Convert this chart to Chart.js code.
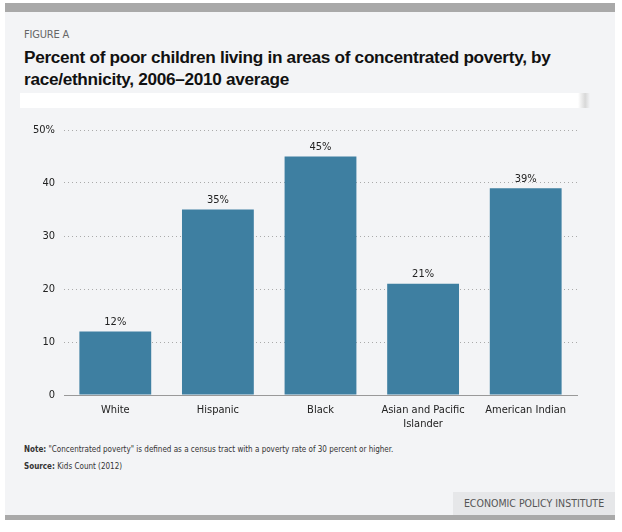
<!DOCTYPE html>
<html>
<head>
<meta charset="utf-8">
<script src="https://cdn.jsdelivr.net/npm/chart.js@4"></script>
<style>
  body { margin: 0; background: #fff; width: 622px; height: 532px; position: relative; font-family: "Liberation Sans", Arial, sans-serif; }
  #panel { position: absolute; left: 5px; top: 3px; width: 610px; height: 517px; background: #f3f4f6; border-top: 9px solid #a9a9a9; border-bottom: 5px solid #a9a9a9; box-sizing: border-box; }
  #fig { position: absolute; left: 24px; top: 28px; font-family: "DejaVu Sans Condensed", "Open Sans", sans-serif; font-size: 11px; color: #666; letter-spacing: -0.2px; }
  #title { position: absolute; left: 24px; top: 46px; width: 590px; font-weight: bold; font-size: 17.2px; letter-spacing: -0.3px; line-height: 22px; color: #111; }
  #whitebar { position: absolute; left: 20px; top: 93px; width: 570px; height: 15px; background: #fff; }
  #whitebar div { position: absolute; right: 0; top: 0; width: 12px; height: 15px; background: linear-gradient(to right, #fff, #d8d8d8 60%, #f3f4f6); }
  #chartbox { position: absolute; left: 0; top: 111px; width: 622px; height: 330px; }
  #note, #source { position: absolute; left: 24px; font-family: "DejaVu Sans Condensed", sans-serif; font-size: 8px; color: #333; }
  #note { top: 445px; }
  #source { top: 462px; }
  #epi { position: absolute; left: 453px; top: 492px; width: 162px; height: 23px; background: #e6e7e9; font-family: "DejaVu Sans Condensed", sans-serif; font-size: 10.5px; color: #555; line-height: 23px; text-align: center; }
</style>
</head>
<body>
<div id="panel"></div>
<div id="fig">FIGURE A</div>
<div id="title">Percent of poor children living in areas of concentrated poverty, by race/ethnicity, 2006–2010 average</div>
<div id="whitebar"><div></div></div>
<div id="chartbox"><canvas id="chart"></canvas></div>
<div id="note"><b>Note:</b> "Concentrated poverty" is defined as a census tract with a poverty rate of 30 percent or higher.</div>
<div id="source"><b>Source:</b> Kids Count (2012)</div>
<div id="epi">ECONOMIC POLICY INSTITUTE</div>
<script>
const categories = ['White', 'Hispanic', 'Black', ['Asian and Pacific', 'Islander'], 'American Indian'];
const shares = [12, 35, 45, 21, 39];
const yTicks = [0, 10, 20, 30, 40, 50];

const tickFont = { family: '"DejaVu Sans Condensed", sans-serif', size: 11 };

// draw the "12%" etc above each bar
const valueLabels = {
  id: 'valueLabels',
  afterDatasetsDraw(chart) {
    const ctx = chart.ctx;
    const meta = chart.getDatasetMeta(0);
    ctx.save();
    ctx.font = '11px "DejaVu Sans Condensed", sans-serif';
    ctx.fillStyle = '#222';
    ctx.textAlign = 'center';
    ctx.textBaseline = 'bottom';
    meta.data.forEach((bar, i) => {
      ctx.fillText(shares[i] + '%', bar.x, bar.y - 4);
    });
    ctx.restore();
  }
};

new Chart(document.getElementById('chart'), {
  type: 'bar',
  data: {
    labels: categories,
    datasets: [{
      data: shares,
      backgroundColor: '#3e7fa1',
      barPercentage: 0.7,
      categoryPercentage: 1
    }]
  },
  options: {
    responsive: true,
    maintainAspectRatio: false,
    animation: false,
    layout: { padding: { top: 19, right: 45, left: 0, bottom: 0 } },
    plugins: { legend: { display: false }, tooltip: { enabled: false } },
    scales: {
      x: {
        grid: { display: false, drawTicks: false },
        border: { color: '#999', width: 1 },
        ticks: { color: '#222', font: tickFont, padding: 9, maxRotation: 0, autoSkip: false },
        afterFit(scale) { scale.height = 46; }
      },
      y: {
        min: 0,
        max: 50,
        afterBuildTicks(scale) { scale.ticks = yTicks.map(v => ({ value: v })); },
        grid: { color: '#aaa', lineWidth: 1, drawTicks: false },
        border: { display: false, dash: [1, 3] },
        ticks: {
          color: '#222',
          font: tickFont,
          padding: 9,
          callback: v => v === 50 ? v + '%' : v
        },
        afterFit(scale) { scale.width = 64; }
      }
    }
  },
  plugins: [valueLabels]
});
</script>
</body>
</html>
